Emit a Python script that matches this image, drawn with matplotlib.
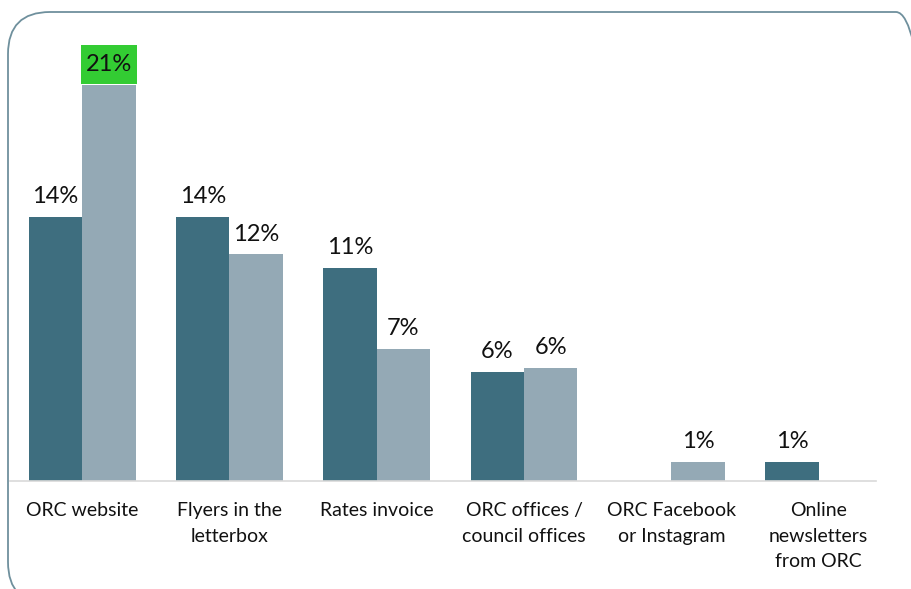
import matplotlib
matplotlib.use('Agg')
import matplotlib.pyplot as plt
from matplotlib.patches import FancyBboxPatch
from matplotlib.path import Path
import numpy as np

plt.rcParams['font.family'] = ['Lato', 'DejaVu Sans']

# 数据
categories = ['ORC website', 'Flyers in the\nletterbox', 'Rates invoice',
              'ORC offices /\ncouncil offices', 'ORC Facebook\nor Instagram',
              'Online\nnewsletters\nfrom ORC']
series_a = [14.0, 14.0, 11.3, 5.8, None, 1.0]
series_b = [21.0, 12.0, 7.0, 6.0, 1.0, None]
highlight_b = 0  # 绿色标注的柱子

dark = '#3e6e7f'
light = '#94a9b5'
green = '#33cc33'


def tall_box(x0, y0, width, height, mutation_size):
    # 方框，上下留白比左右多
    px, py = 0.2 * mutation_size, 0.38 * mutation_size
    x0, y0 = x0 - px, y0 - py
    x1, y1 = x0 + width + 2 * px, y0 + height + 2 * py
    return Path([(x0, y0), (x1, y0), (x1, y1), (x0, y1), (x0, y0)],
                closed=True)


fig = plt.figure(figsize=(9.12, 5.89), dpi=100)
W, H = 912, 589
ax = fig.add_axes([10 / W, (H - 481) / H, 866 / W, 421 / H])

x = np.arange(len(categories))
w = 0.363

for i in range(len(categories)):
    a, b = series_a[i], series_b[i]
    if a is not None:
        ax.bar(x[i] - w / 2, a, w, color=dark)
        ax.annotate(f'{a:.0f}%', (x[i] - w / 2, a), xytext=(0, 10),
                    textcoords='offset points', ha='center', va='baseline',
                    fontsize=17, color='#111111')
    if b is not None:
        ax.bar(x[i] + w / 2, b, w, color=light)
        box = None
        if i == highlight_b:
            box = dict(boxstyle=tall_box, fc=green, ec='none')
        ax.annotate(f'{b:.0f}%', (x[i] + w / 2, b), xytext=(0, 10),
                    textcoords='offset points', ha='center', va='baseline',
                    fontsize=17, color='#111111', bbox=box)

ax.set_xlim(-0.49, 5.39)
ax.set_ylim(0, 22.3)
ax.set_yticks([])
ax.set_xticks(x)
ax.set_xticklabels(categories, fontsize=14, linespacing=1.62, color='#111111')
ax.tick_params(axis='x', length=0, pad=15)
for s in ['top', 'right', 'left']:
    ax.spines[s].set_visible(False)
ax.spines['bottom'].set_color('#d9d9d9')
ax.spines['bottom'].set_linewidth(1.2)
ax.patch.set_alpha(0)

# 圆角边框
frame = FancyBboxPatch((0.08, -0.15), 9.3, 5.92, boxstyle='round,pad=0,rounding_size=0.42',
                       transform=fig.dpi_scale_trans, fill=False,
                       ec='#6f909d', lw=1.3, zorder=-1)
fig.patches.append(frame)

fig.savefig('out.png', dpi=100)
